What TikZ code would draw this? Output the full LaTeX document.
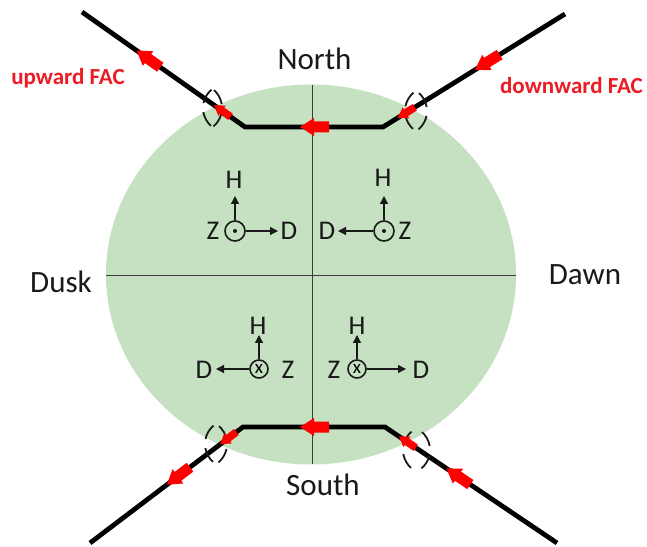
\documentclass[tikz,border=0pt]{standalone}
\usepackage{fontspec}
\setmainfont{Carlito}
\usetikzlibrary{calc,arrows.meta}
\definecolor{fillgreen}{RGB}{198,225,194}
\definecolor{facred}{RGB}{255,0,0}
\definecolor{labelred}{RGB}{236,28,36}
\definecolor{divgray}{RGB}{60,60,60}
\definecolor{txt}{RGB}{25,25,25}
\begin{document}
\begin{tikzpicture}[x=1pt,y=1pt,
  wire/.style={line width=4.8pt, black, line join=miter},
  divider/.style={line width=0.9pt, divgray},
  lbl/.style={font=\fontsize{31}{36}\selectfont, text=txt, inner sep=0pt, anchor=base},
  fac/.style={font=\bfseries\fontsize{23}{27}\selectfont, text=labelred, inner sep=0pt, anchor=base},
  axlbl/.style={font=\fontsize{27}{32}\selectfont, text=txt, inner sep=0pt},
  vec/.style={line width=1.3pt, txt, -{Triangle[length=8pt,width=8pt]}},
  dotc/.style={circle, draw=txt, line width=1.6pt, minimum size=20pt, inner sep=0pt},
  crossc/.style={circle, draw=txt, line width=1.6pt, minimum size=18pt, inner sep=0pt, font=\fontsize{19}{19}\selectfont},
  paren/.style={line width=1.8pt, txt, dash pattern=on 16pt off 9pt},
  fatarrow/.pic={\fill[facred] (-15,-5.5)--(0,-5.5)--(0,-9)--(14,0)--(0,9)--(0,5.5)--(-15,5.5)--cycle;},
  lparen/.pic={\draw[paren] (8.57,18.38) arc[start angle=130,end angle=230,radius=24pt];},
  rparen/.pic={\draw[paren] (-8.57,-18.38) arc[start angle=-50,end angle=50,radius=24pt];}
]
\useasboundingbox (0,0) rectangle (647,546);
\fill[white] (0,0) rectangle (647,546);

% disc and dividers
\fill[fillgreen] (311,271.5) ellipse [x radius=205pt, y radius=190pt];
\draw[divider] (106,271) -- (516,271);
\draw[divider] (312,82) -- (312,461);

% wires
\coordinate (A1) at (82,534);
\coordinate (A2) at (245,419);
\coordinate (A3) at (383,419);
\coordinate (A4) at (565,532);
\coordinate (B1) at (90,3);
\coordinate (B2) at (243,119);
\coordinate (B3) at (385,119);
\coordinate (B4) at (557,3);
\draw[wire] (A1) -- (A2) -- (A3) -- (A4);
\draw[wire] (B1) -- (B2) -- (B3) -- (B4);

% brackets
\pic at (203,438) {lparen};
\pic at (222,438) {rparen};
\pic at (405,435) {lparen};
\pic at (427,435) {rparen};
\pic at (205,102) {lparen};
\pic at (227,102) {rparen};
\pic at (403,96) {lparen};
\pic at (430,96) {rparen};

% current arrows
\pic[rotate=144.8] at ($(A1)!0.405!(A2)$) {fatarrow};
\pic[rotate=180] at ($(A2)!0.5!(A3)$) {fatarrow};
\pic[rotate=211.8] at ($(A3)!0.571!(A4)$) {fatarrow};
\pic[rotate=217.2] at ($(B1)!0.575!(B2)$) {fatarrow};
\pic[rotate=180] at ($(B2)!0.5!(B3)$) {fatarrow};
\pic[rotate=146] at ($(B3)!0.424!(B4)$) {fatarrow};
\pic[rotate=144.8, scale=0.7] at ($(A1)!0.859!(A2)$) {fatarrow};
\pic[rotate=211.8, scale=0.7] at ($(A3)!0.126!(A4)$) {fatarrow};
\pic[rotate=217.2, scale=0.7] at ($(B1)!0.902!(B2)$) {fatarrow};
\pic[rotate=146, scale=0.7] at ($(B3)!0.128!(B4)$) {fatarrow};

% labels
\node[lbl] (north) at (314.5,476) {North};
\node[lbl] (south) at (323,51) {South};
\node[lbl] (dusk) at (61,253) {Dusk};
\node[lbl] (dawn) at (585,261) {Dawn};
\node[fac] (up) at (68,461) {upward FAC};
\node[fac] (down) at (571.5,452) {downward FAC};

% NW frame
\node[dotc] (c1) at (235,315) {};
\fill[txt] (c1.center) circle (2pt);
\node[axlbl] (h1) at (234,366) {H};
\node[axlbl] (d1) at (289,315) {D};
\node[axlbl] (z1) at (213,315) {Z};
\coordinate (t1h) at (235,350);
\coordinate (t1d) at (278,315);
\draw[vec] (c1) -- (t1h);
\draw[vec] (c1) -- (t1d);

% NE frame
\node[dotc] (c2) at (384,315) {};
\fill[txt] (c2.center) circle (2pt);
\node[axlbl] (h2) at (383,368) {H};
\node[axlbl] (d2) at (327,315) {D};
\node[axlbl] (z2) at (405,315) {Z};
\coordinate (t2h) at (384,350);
\coordinate (t2d) at (338,315);
\draw[vec] (c2) -- (t2h);
\draw[vec] (c2) -- (t2d);

% SW frame
\node[crossc] (c3) at (259,177) {x};
\node[axlbl] (h3) at (258,220) {H};
\node[axlbl] (d3) at (204,176) {D};
\node[axlbl] (z3) at (288,176) {Z};
\coordinate (t3h) at (259,211);
\coordinate (t3d) at (216,177);
\draw[vec] (c3) -- (t3h);
\draw[vec] (c3) -- (t3d);

% SE frame
\node[crossc] (c4) at (357,177) {x};
\node[axlbl] (h4) at (357,220) {H};
\node[axlbl] (d4) at (421,176) {D};
\node[axlbl] (z4) at (334,176) {Z};
\coordinate (t4h) at (357,211);
\coordinate (t4d) at (406,177);
\draw[vec] (c4) -- (t4h);
\draw[vec] (c4) -- (t4d);
\end{tikzpicture}
\end{document}
